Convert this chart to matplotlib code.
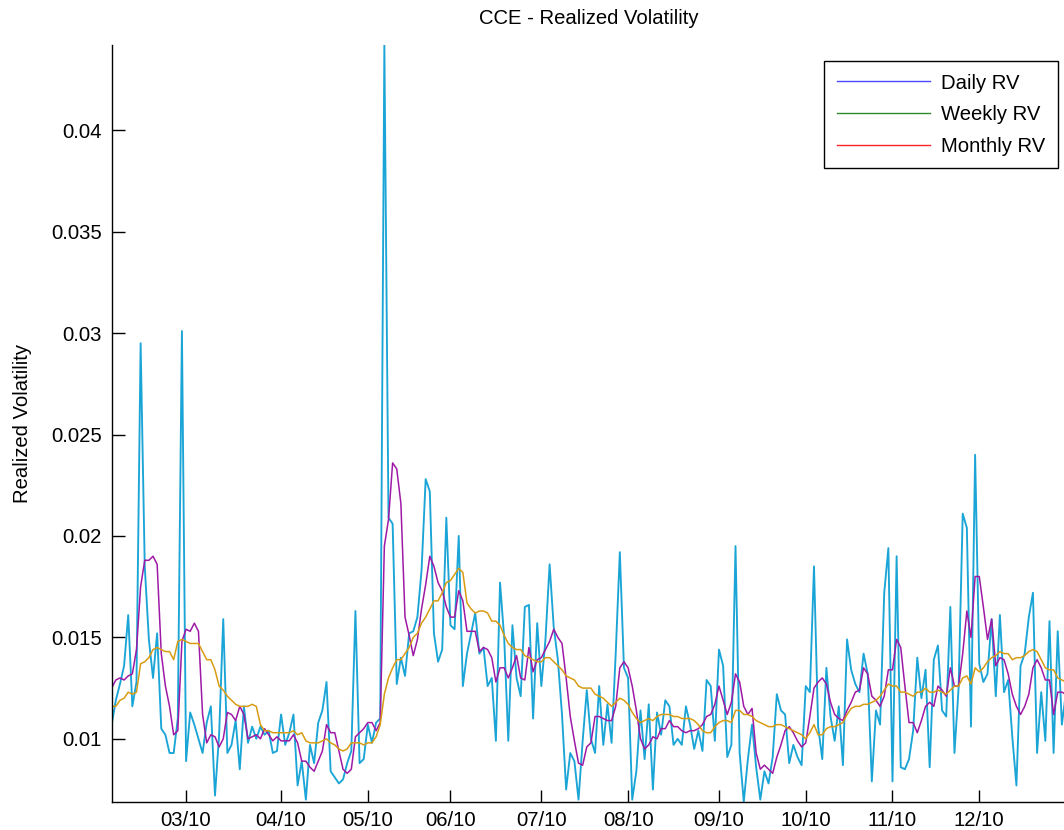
import matplotlib
matplotlib.use("Agg")
import matplotlib.pyplot as plt
from matplotlib.lines import Line2D
import numpy as np

plt.rcParams['font.family'] = ['Liberation Sans', 'DejaVu Sans']

title = "CCE - Realized Volatility"
ylabel = "Realized Volatility"
legend_labels = ["Daily RV", "Weekly RV", "Monthly RV"]

month_labels = ['03/10', '04/10', '05/10', '06/10', '07/10', '08/10', '09/10', '10/10', '11/10', '12/10']
month_start_idx = [18, 41, 62, 82, 104, 125, 147, 168, 189, 210]

ytick_vals = [0.01, 0.015, 0.02, 0.025, 0.03, 0.035, 0.04]
ytick_labels = ['0.01', '0.015', '0.02', '0.025', '0.03', '0.035', '0.04']

daily_rv = [
    0.0107, 0.0119, 0.0127, 0.0136, 0.0161, 0.0116, 0.0128, 0.0295, 0.0185, 0.0149,
    0.0130, 0.0152, 0.0105, 0.0102, 0.0093, 0.0093, 0.0110, 0.0301, 0.0089, 0.0113,
    0.0107, 0.0100, 0.0093, 0.0108, 0.0116, 0.0072, 0.0102, 0.0159, 0.0093, 0.0097,
    0.0109, 0.0085, 0.0116, 0.0098, 0.0106, 0.0100, 0.0106, 0.0102, 0.0104, 0.0093,
    0.0094, 0.0112, 0.0097, 0.0103, 0.0112, 0.0077, 0.0089, 0.0070, 0.0097, 0.0088,
    0.0108, 0.0114, 0.0128, 0.0084, 0.0081, 0.0078, 0.0080, 0.0088, 0.0094, 0.0163,
    0.0088, 0.0090, 0.0107, 0.0098, 0.0108, 0.0110, 0.0442, 0.0209, 0.0206, 0.0127,
    0.0140, 0.0131, 0.0152, 0.0153, 0.0160, 0.0183, 0.0228, 0.0222, 0.0152, 0.0138,
    0.0144, 0.0209, 0.0156, 0.0154, 0.0200, 0.0126, 0.0142, 0.0152, 0.0162, 0.0142,
    0.0145, 0.0126, 0.0130, 0.0099, 0.0177, 0.0150, 0.0099, 0.0156, 0.0130, 0.0121,
    0.0165, 0.0166, 0.0110, 0.0157, 0.0126, 0.0149, 0.0186, 0.0155, 0.0139, 0.0112,
    0.0075, 0.0093, 0.0089, 0.0070, 0.0099, 0.0124, 0.0100, 0.0093, 0.0126, 0.0097,
    0.0117, 0.0098, 0.0142, 0.0192, 0.0135, 0.0130, 0.0070, 0.0084, 0.0114, 0.0090,
    0.0117, 0.0075, 0.0113, 0.0102, 0.0119, 0.0116, 0.0097, 0.0100, 0.0097, 0.0116,
    0.0107, 0.0095, 0.0104, 0.0094, 0.0129, 0.0126, 0.0099, 0.0144, 0.0136, 0.0091,
    0.0097, 0.0195, 0.0093, 0.0069, 0.0090, 0.0107, 0.0086, 0.0070, 0.0084, 0.0078,
    0.0091, 0.0122, 0.0114, 0.0112, 0.0088, 0.0097, 0.0091, 0.0087, 0.0126, 0.0123,
    0.0185, 0.0106, 0.0090, 0.0135, 0.0111, 0.0099, 0.0116, 0.0087, 0.0149, 0.0134,
    0.0127, 0.0123, 0.0142, 0.0132, 0.0079, 0.0114, 0.0107, 0.0172, 0.0194, 0.0079,
    0.0190, 0.0086, 0.0085, 0.0090, 0.0104, 0.0140, 0.0120, 0.0134, 0.0086, 0.0139,
    0.0146, 0.0114, 0.0111, 0.0165, 0.0093, 0.0125, 0.0211, 0.0204, 0.0106, 0.0240,
    0.0137, 0.0128, 0.0132, 0.0159, 0.0121, 0.0161, 0.0123, 0.0129, 0.0101, 0.0077,
    0.0136, 0.0142, 0.0160, 0.0172, 0.0093, 0.0123, 0.0099, 0.0158, 0.0093, 0.0153,
    0.0107, 0.0123,
]

weekly_rv = [
    0.0125, 0.0129, 0.0130, 0.0129, 0.0131, 0.0132, 0.0144, 0.0175, 0.0188, 0.0188,
    0.0190, 0.0186, 0.0142, 0.0126, 0.0116, 0.0102, 0.0104, 0.0148, 0.0154, 0.0153,
    0.0157, 0.0153, 0.0112, 0.0098, 0.0102, 0.0101, 0.0096, 0.0100, 0.0113, 0.0112,
    0.0109, 0.0116, 0.0112, 0.0100, 0.0101, 0.0102, 0.0100, 0.0105, 0.0102, 0.0099,
    0.0101, 0.0099, 0.0099, 0.0099, 0.0102, 0.0098, 0.0089, 0.0089, 0.0086, 0.0084,
    0.0089, 0.0094, 0.0107, 0.0103, 0.0103, 0.0094, 0.0085, 0.0083, 0.0085, 0.0101,
    0.0103, 0.0105, 0.0108, 0.0108, 0.0104, 0.0108, 0.0195, 0.0208, 0.0236, 0.0233,
    0.0216, 0.0160, 0.0151, 0.0141, 0.0149, 0.0164, 0.0176, 0.0190, 0.0185, 0.0177,
    0.0173, 0.0165, 0.0160, 0.0160, 0.0173, 0.0168, 0.0153, 0.0153, 0.0153, 0.0143,
    0.0145, 0.0144, 0.0140, 0.0128, 0.0135, 0.0135, 0.0130, 0.0135, 0.0141, 0.0130,
    0.0129, 0.0145, 0.0133, 0.0139, 0.0140, 0.0144, 0.0148, 0.0154, 0.0150, 0.0147,
    0.0130, 0.0111, 0.0099, 0.0088, 0.0087, 0.0096, 0.0098, 0.0111, 0.0111, 0.0110,
    0.0109, 0.0109, 0.0116, 0.0135, 0.0138, 0.0135, 0.0126, 0.0114, 0.0100, 0.0095,
    0.0097, 0.0101, 0.0100, 0.0105, 0.0105, 0.0109, 0.0106, 0.0106, 0.0104, 0.0103,
    0.0104, 0.0104, 0.0105, 0.0107, 0.0111, 0.0112, 0.0117, 0.0126, 0.0119, 0.0112,
    0.0118, 0.0132, 0.0128, 0.0116, 0.0112, 0.0115, 0.0093, 0.0085, 0.0087, 0.0085,
    0.0083, 0.0091, 0.0097, 0.0104, 0.0106, 0.0103, 0.0099, 0.0096, 0.0098, 0.0111,
    0.0125, 0.0128, 0.0130, 0.0127, 0.0118, 0.0112, 0.0110, 0.0109, 0.0114, 0.0118,
    0.0123, 0.0124, 0.0135, 0.0132, 0.0121, 0.0119, 0.0116, 0.0121, 0.0134, 0.0134,
    0.0149, 0.0145, 0.0126, 0.0108, 0.0108, 0.0103, 0.0109, 0.0116, 0.0118, 0.0116,
    0.0126, 0.0124, 0.0121, 0.0135, 0.0126, 0.0126, 0.0142, 0.0163, 0.0150, 0.0180,
    0.0180, 0.0165, 0.0149, 0.0159, 0.0136, 0.0140, 0.0139, 0.0132, 0.0122, 0.0116,
    0.0112, 0.0116, 0.0122, 0.0135, 0.0139, 0.0135, 0.0129, 0.0129, 0.0112, 0.0123,
    0.0123, 0.0122,
]

monthly_rv = [
    0.0116, 0.0116, 0.0119, 0.0120, 0.0123, 0.0122, 0.0123, 0.0137, 0.0138, 0.0140,
    0.0144, 0.0145, 0.0144, 0.0143, 0.0143, 0.0139, 0.0148, 0.0149, 0.0148, 0.0147,
    0.0147, 0.0147, 0.0143, 0.0139, 0.0139, 0.0134, 0.0126, 0.0124, 0.0121, 0.0119,
    0.0117, 0.0116, 0.0116, 0.0116, 0.0117, 0.0116, 0.0107, 0.0104, 0.0104, 0.0103,
    0.0103, 0.0103, 0.0103, 0.0103, 0.0104, 0.0102, 0.0103, 0.0099, 0.0098, 0.0098,
    0.0098, 0.0099, 0.0100, 0.0098, 0.0097, 0.0095, 0.0094, 0.0095, 0.0098, 0.0098,
    0.0098, 0.0097, 0.0098, 0.0098, 0.0101, 0.0107, 0.0122, 0.0130, 0.0135, 0.0139,
    0.0139, 0.0142, 0.0145, 0.0150, 0.0152, 0.0157, 0.0160, 0.0164, 0.0168, 0.0168,
    0.0172, 0.0177, 0.0178, 0.0181, 0.0184, 0.0182, 0.0167, 0.0164, 0.0162, 0.0163,
    0.0163, 0.0162, 0.0158, 0.0158, 0.0156, 0.0151, 0.0147, 0.0145, 0.0144, 0.0144,
    0.0141, 0.0140, 0.0139, 0.0138, 0.0138, 0.0140, 0.0140, 0.0138, 0.0136, 0.0134,
    0.0131, 0.0130, 0.0129, 0.0126, 0.0125, 0.0125, 0.0125, 0.0122, 0.0121, 0.0120,
    0.0118, 0.0116, 0.0118, 0.0120, 0.0119, 0.0117, 0.0113, 0.0110, 0.0108, 0.0109,
    0.0110, 0.0109, 0.0111, 0.0112, 0.0112, 0.0112, 0.0111, 0.0111, 0.0110, 0.0110,
    0.0110, 0.0109, 0.0107, 0.0104, 0.0103, 0.0103, 0.0106, 0.0108, 0.0109, 0.0109,
    0.0108, 0.0114, 0.0114, 0.0112, 0.0112, 0.0111, 0.0109, 0.0108, 0.0107, 0.0106,
    0.0106, 0.0107, 0.0107, 0.0106, 0.0105, 0.0104, 0.0103, 0.0102, 0.0100, 0.0103,
    0.0107, 0.0102, 0.0102, 0.0105, 0.0106, 0.0106, 0.0107, 0.0108, 0.0112, 0.0115,
    0.0116, 0.0116, 0.0117, 0.0117, 0.0118, 0.0119, 0.0121, 0.0124, 0.0127, 0.0126,
    0.0126, 0.0123, 0.0123, 0.0122, 0.0121, 0.0123, 0.0123, 0.0125, 0.0123, 0.0123,
    0.0124, 0.0123, 0.0122, 0.0124, 0.0126, 0.0126, 0.0130, 0.0131, 0.0127, 0.0135,
    0.0133, 0.0135, 0.0138, 0.0140, 0.0141, 0.0143, 0.0142, 0.0142, 0.0139, 0.0140,
    0.0140, 0.0141, 0.0143, 0.0144, 0.0143, 0.0139, 0.0135, 0.0134, 0.0134, 0.0130,
    0.0129, 0.0128,
]

W, H = 1064, 830
FS = 14.6
fig = plt.figure(figsize=(W / 100, H / 100), dpi=100)
ax_left, ax_right, ax_top, ax_bottom = 111.7, 1066.0, 45.0, 801.7
ax = fig.add_axes([ax_left / W, 1 - ax_bottom / H, (ax_right - ax_left) / W, (ax_bottom - ax_top) / H])

x = np.arange(len(daily_rv))
ax.plot(x, daily_rv, color='#1ba5d6', lw=1.35)
ax.plot(x, weekly_rv, color='#9e1aa6', lw=1.1)
ax.plot(x, monthly_rv, color='#d89c14', lw=1.1)

ax.set_xlim(0, len(daily_rv) - 1)
ax.set_ylim(min(daily_rv), max(daily_rv))

ax.set_xticks(month_start_idx)
ax.set_xticklabels(month_labels)
ax.set_yticks(ytick_vals)
ax.set_yticklabels(ytick_labels)

ax.tick_params(direction='in', length=9, width=1, labelsize=FS, colors='black')
ax.tick_params(axis='x', pad=7)
ax.tick_params(axis='y', pad=7)

for s in ['top', 'right']:
    ax.spines[s].set_visible(False)
for s in ['left', 'bottom']:
    ax.spines[s].set_linewidth(1.0)
    ax.spines[s].set_color('black')

ax.set_title(title, fontsize=FS, pad=15)
ax.set_ylabel(ylabel, fontsize=FS)
ax.yaxis.set_label_coords((32 - ax_left) / (ax_right - ax_left), 0.5)

handles = [Line2D([], [], color='#4848ff', lw=1.0),
           Line2D([], [], color='#2a8a2a', lw=1.0),
           Line2D([], [], color='#ff2020', lw=1.0)]
leg = ax.legend(handles, legend_labels, loc='upper right',
                bbox_to_anchor=((1058 - ax_left) / (ax_right - ax_left), (ax_bottom - 61) / (ax_bottom - ax_top)),
                fontsize=FS, frameon=True, fancybox=False, framealpha=1,
                edgecolor='black', handlelength=4.6, handletextpad=0.55,
                borderpad=0.62, labelspacing=0.62, borderaxespad=0)
leg.get_frame().set_linewidth(1.0)

fig.savefig('out.png', dpi=100)
